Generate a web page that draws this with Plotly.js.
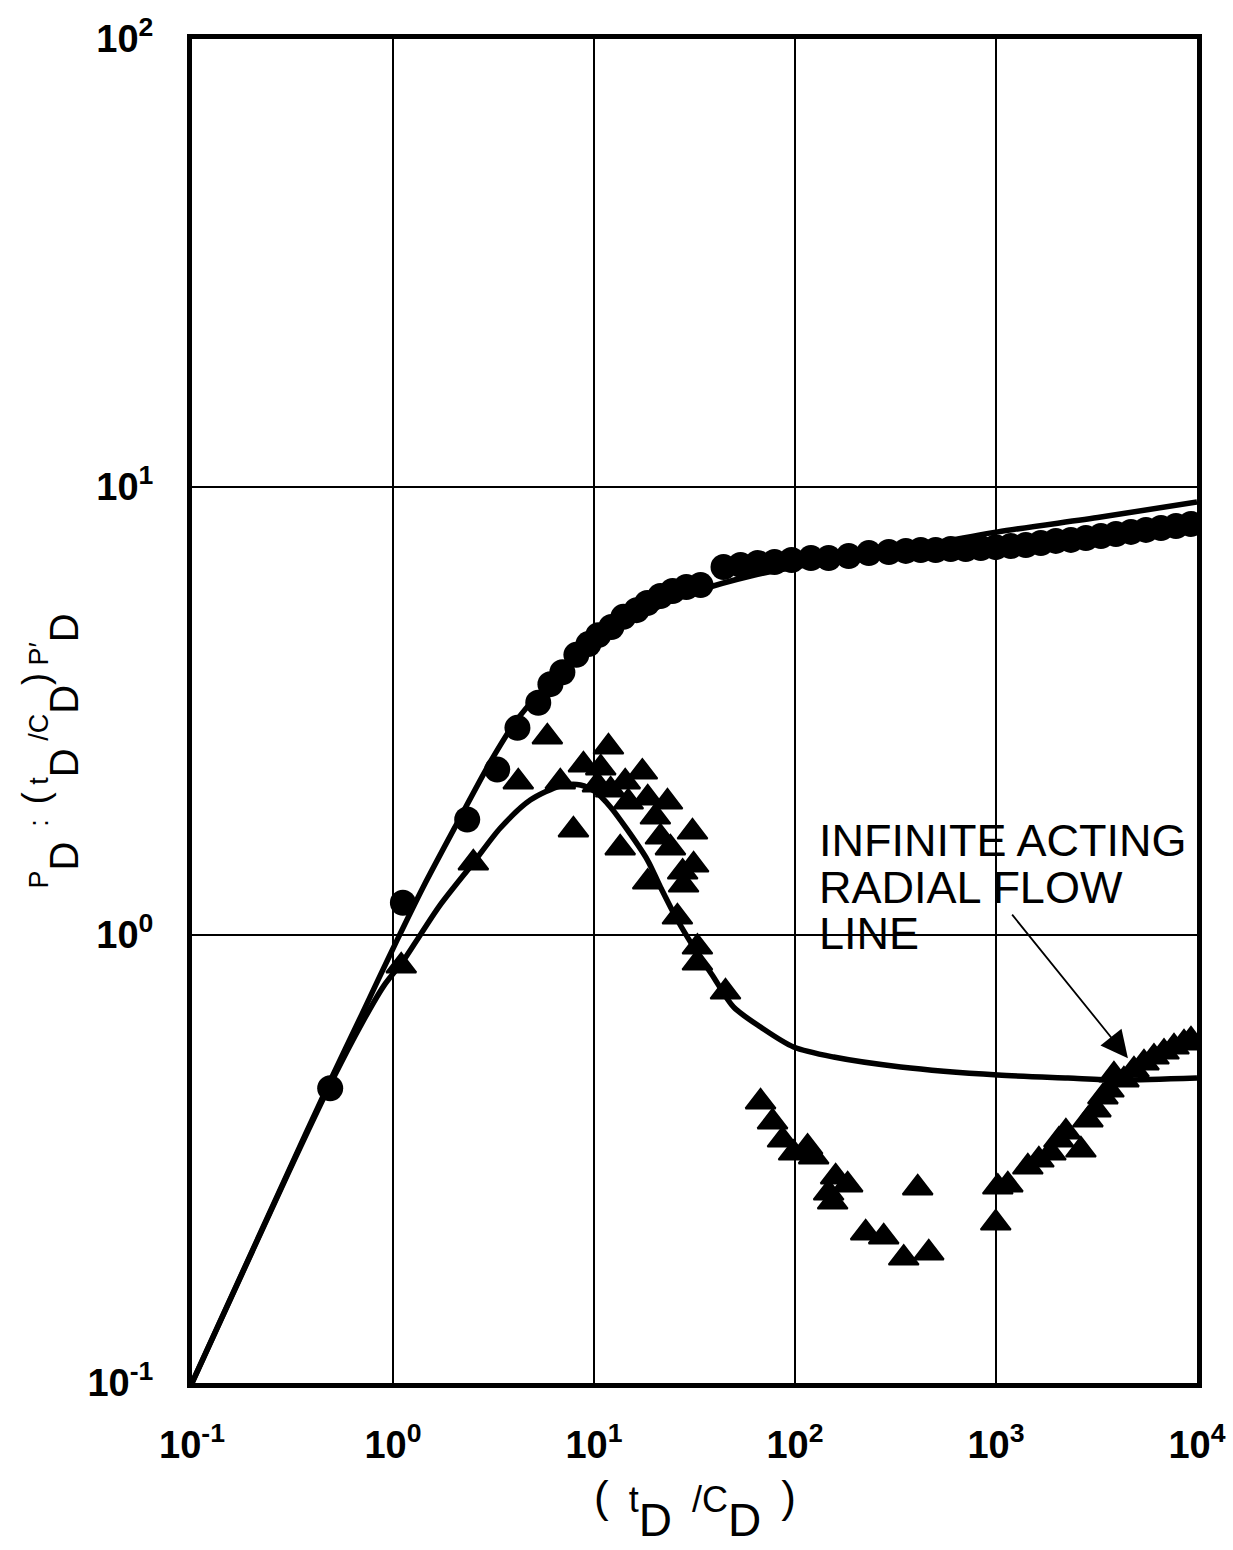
<!DOCTYPE html>
<html>
<head>
<meta charset="utf-8">
<script src="https://cdn.plot.ly/plotly-3.0.1.min.js"></script>
<style>html,body{margin:0;padding:0;background:#fff}</style>
</head>
<body>
<div id="chart" style="width:1233px;height:1550px"></div>
<script>
// Field data: dimensionless pressure (circles) vs t_D/C_D
const tdPressure = [0.487, 1.12, 2.34, 3.30, 4.16, 5.28, 6.07, 6.96, 8.17, 9.38, 10.5, 12.2, 14.0, 16.3, 18.4,
  21.4, 24.6, 28.8, 33.9, 44.1, 53.6, 65.2, 79.1, 96.2, 120, 147, 185, 233, 293, 356, 422, 501, 595, 707,
  840, 997, 1185, 1407, 1671, 1985, 2358, 2800, 3326, 3951, 4692, 5572, 6618, 7860, 9333];
const pdPressure = [0.455, 1.18, 1.81, 2.34, 2.90, 3.30, 3.63, 3.86, 4.22, 4.46, 4.67, 4.87, 5.13, 5.31, 5.51,
  5.71, 5.86, 5.98, 6.04, 6.63, 6.70, 6.77, 6.80, 6.87, 6.94, 6.94, 7.01, 7.12, 7.16, 7.20, 7.23, 7.23, 7.27, 7.27,
  7.31, 7.34, 7.38, 7.42, 7.50, 7.58, 7.62, 7.69, 7.77, 7.85, 7.94, 8.02, 8.10, 8.18, 8.27];

// Field data: pressure derivative group (t_D/C_D) p'_D (triangles)
const tdDerivative = [1.099, 2.51, 4.20, 5.86, 6.80, 7.90, 8.86, 10.4, 10.8, 11.8, 12.1, 13.5, 14.3, 14.8, 17.4,
  18.5, 18.5, 20.2, 21.4, 23.2, 24.0, 26.0, 27.6, 27.9, 30.9, 31.3, 32.7, 32.7, 45.1, 67.4, 77.3, 86.7, 98.4,
  115.5, 123.8, 147, 153.9, 159.3, 182.8, 224.7, 276.2, 347.4, 407.8, 462.8, 997, 1021, 1145, 1440, 1634,
  1875, 2055, 2227, 2645, 2866, 3141, 3403, 3646, 3861, 4329, 4857, 5447, 6109, 6852, 7684, 8616, 9335];
const pdDerivative = [0.853, 1.448, 2.196, 2.767, 2.196, 1.716, 2.397, 2.162, 2.360, 2.628, 2.107, 1.564, 2.196,
  1.981, 2.311, 2.022, 1.313, 1.834, 1.654, 1.981, 1.564, 1.097, 1.382, 1.293, 1.698, 1.433, 0.940, 0.866,
  0.746, 0.424, 0.3825, 0.3486, 0.326, 0.3363, 0.3196, 0.2655, 0.2535, 0.2884, 0.2767, 0.2163, 0.2119, 0.1901,
  0.2725, 0.1951, 0.2276, 0.2738, 0.2767, 0.3035, 0.3146, 0.326, 0.3486, 0.3633, 0.3312, 0.3865, 0.4069,
  0.435, 0.4508, 0.487, 0.4747, 0.4998, 0.518, 0.534, 0.548, 0.5623, 0.574, 0.583];

// Type curve: dimensionless pressure
const tdTypeP = [0.1, 0.3, 0.5, 0.7, 0.85, 1.049, 1.414, 2.087, 3.05, 4.06, 5.41, 7.20, 9.60, 13.5,
  21.4, 33.9, 60.1, 106.6, 212, 437, 1021, 3327, 10000];
const pdTypeP = [0.1, 0.295, 0.485, 0.665, 0.80, 0.975, 1.280, 1.778, 2.433, 2.988, 3.487, 3.965, 4.37, 4.85,
  5.43, 5.89, 6.33, 6.66, 6.98, 7.42, 7.94, 8.57, 9.26];

// Type curve: pressure derivative group
const tdTypeDer = [0.1, 0.3, 0.5, 0.7, 0.9, 1.124, 1.366, 1.718, 2.508, 3.42, 4.82, 6.80, 8.56, 10.2,
  12.07, 14.67, 18.45, 21.4, 26.0, 31.3, 39.3, 49.4, 67.4, 98.4, 155.7, 335.6, 1021, 2279, 4043, 10000];
const pdTypeDer = [0.1, 0.293, 0.475, 0.635, 0.77, 0.875, 1.0, 1.167, 1.448, 1.733, 2.001, 2.151, 2.162, 2.085,
  1.931, 1.716, 1.470, 1.280, 1.080, 0.940, 0.806, 0.691, 0.623, 0.5623, 0.534, 0.5076, 0.487, 0.4795, 0.4747,
  0.4795];

// Decade ticks
const xTickVals = [0.1, 1, 10, 100, 1000, 10000];
const xTickText = ['10<sup>-1</sup>', '10<sup>0</sup>', '10<sup>1</sup>', '10<sup>2</sup>', '10<sup>3</sup>', '10<sup>4</sup>'];
const yTickVals = [0.1, 1, 10, 100];
const yTickText = ['10<sup>-1</sup>', '10<sup>0</sup>', '10<sup>1</sup>', '10<sup>2</sup>'];

// Lettering helpers: large, dropped subscript and tall brackets
function low(s, shift, size) {
  return '<span style="font-size:' + size + 'px;baseline-shift:-' + shift + 'px">' + s + '</span>';
}
function paren(s, size) {
  return '<span style="font-size:' + size + 'px">' + s + '</span>';
}

const xTitle = paren('(', 44) + '  t' + low('D', 24, 46) + '  /C' + low('D', 24, 46) + '  ' + paren(')', 44);
const yTitle = 'P' + low('D', 30, 40) + '  :  ' + paren('(', 36) + ' t' + low('D', 30, 40) + ' /C' +
  low('D', 30, 40) + paren(')', 36) + ' P\u2032' + low('D', 30, 40);

const black = '#000';

const traces = [
  {
    x: tdTypeP, y: pdTypeP, type: 'scatter', mode: 'lines',
    line: {color: black, width: 5.5, shape: 'spline', smoothing: 0.8}, hoverinfo: 'skip'
  },
  {
    x: tdTypeDer, y: pdTypeDer, type: 'scatter', mode: 'lines',
    line: {color: black, width: 5.5, shape: 'spline', smoothing: 0.8}, hoverinfo: 'skip'
  },
  {
    x: tdPressure, y: pdPressure, type: 'scatter', mode: 'markers',
    marker: {symbol: 'circle', size: 26, color: black}
  },
  {
    x: tdDerivative, y: pdDerivative, type: 'scatter', mode: 'markers',
    marker: {symbol: 'triangle-up', size: 26, color: black, line: {color: black, width: 2}}
  }
];

const tickFont = {family: 'Liberation Sans, Arial, sans-serif', size: 38, color: black, weight: 'bold'};
const yLabelFont = {family: 'Liberation Sans, Arial, sans-serif', size: 27, color: black};
const xLabelFont = {family: 'Liberation Sans, Arial, sans-serif', size: 36, color: black};
const noteFont = {family: 'Liberation Sans, Arial, sans-serif', size: 45, color: black};

const layout = {
  width: 1233, height: 1550,
  margin: {l: 192, r: 36, t: 39, b: 167, pad: 0},
  paper_bgcolor: '#fff', plot_bgcolor: '#fff',
  showlegend: false,
  xaxis: {
    type: 'log', range: [-1, 4], tickmode: 'array', tickvals: xTickVals, ticktext: xTickText,
    ticks: '', showgrid: true, gridcolor: black, gridwidth: 2, showline: true, mirror: true,
    linecolor: black, linewidth: 5, zeroline: false, tickfont: tickFont, ticklabelstandoff: 24
  },
  yaxis: {
    type: 'log', range: [-1, 2], tickmode: 'array', tickvals: yTickVals, ticktext: yTickText,
    ticks: '', showgrid: true, gridcolor: black, gridwidth: 2, showline: true, mirror: true,
    linecolor: black, linewidth: 5, zeroline: false, tickfont: tickFont, ticklabelstandoff: 26
  },
  annotations: [
    {xref: 'paper', yref: 'paper', x: 0.5005, y: -0.094, text: xTitle, showarrow: false,
     font: xLabelFont, xanchor: 'center', yanchor: 'middle'},
    {xref: 'paper', yref: 'paper', x: -0.141, y: 0.470, text: yTitle, showarrow: false, textangle: -90,
     font: yLabelFont, xanchor: 'center', yanchor: 'middle'},
    {xref: 'paper', yref: 'paper', x: 0.622, y: 0.404, text: 'INFINITE ACTING', showarrow: false,
     font: noteFont, xanchor: 'left', yanchor: 'middle', height: 42},
    {xref: 'paper', yref: 'paper', x: 0.622, y: 0.369, text: 'RADIAL FLOW', showarrow: false,
     font: noteFont, xanchor: 'left', yanchor: 'middle', height: 42},
    {xref: 'paper', yref: 'paper', x: 0.622, y: 0.335, text: 'LINE', showarrow: false,
     font: noteFont, xanchor: 'left', yanchor: 'middle', height: 42},
    {xref: 'x', yref: 'y', x: Math.log10(4533), y: Math.log10(0.531), text: '', showarrow: true,
     ax: -117, ay: -145, arrowhead: 2, arrowsize: 3, arrowwidth: 1.8, arrowcolor: black}
  ]
};

Plotly.newPlot('chart', traces, layout, {staticPlot: true, displayModeBar: false});
</script>
</body>
</html>
